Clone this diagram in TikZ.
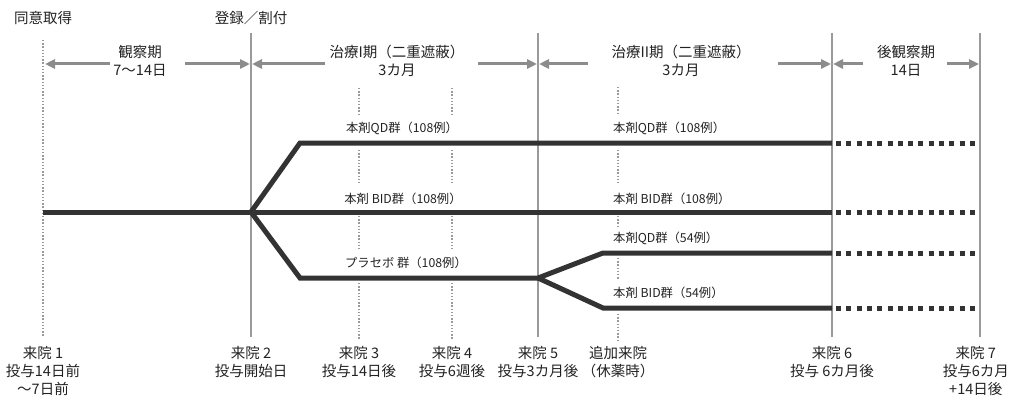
\documentclass[tikz,border=0pt]{standalone}
\usepackage{fontspec}
\setmainfont{Noto Sans CJK JP}
\usetikzlibrary{arrows.meta}
\definecolor{vgray}{HTML}{9A9A9A}
\definecolor{agray}{HTML}{8C8C8C}
\definecolor{armc}{HTML}{333333}
\definecolor{txt}{HTML}{222222}
\begin{document}
\begin{tikzpicture}[x=1pt,y=-1pt,
  vline/.style={draw=vgray, line width=2pt},
  vdot/.style={draw=vgray, line width=1.4pt, dash pattern=on 1.4pt off 1.8pt},
  arm/.style={draw=armc, line width=5pt, line join=miter},
  ext/.style={draw=armc, line width=5pt, dash pattern=on 5pt off 5.3pt, dash phase=-4pt},
  per/.style={draw=agray, line width=3pt, -{Triangle[length=10pt,width=9pt]}},
  lab/.style={font=\fontsize{14.5}{18}\selectfont, align=center, text=txt, inner sep=0pt},
  grp/.style={font=\fontsize{12.3}{14}\selectfont, inner sep=0pt, text=txt}]
\useasboundingbox (0,0) rectangle (1011,401);

% vertical visit lines
\coordinate (v1t) at (43,40);  \coordinate (v1b) at (43,337);
\coordinate (v2t) at (251,33); \coordinate (v2b) at (251,337);
\coordinate (v5t) at (538,33); \coordinate (v5b) at (538,337);
\coordinate (v6t) at (832,33); \coordinate (v6b) at (832,337);
\coordinate (v7t) at (980,33); \coordinate (v7b) at (980,337);
\draw[vdot] (v1t) -- (v1b);
\draw[vline] (v2t) -- (v2b);
\draw[vline] (v5t) -- (v5b);
\draw[vline] (v6t) -- (v6b);
\draw[vline] (v7t) -- (v7b);
% broken dotted lines (visits 3, 4, additional)
\foreach \x in {359,452}{
  \draw[vdot] (\x,88) -- (\x,115);
  \draw[vdot] (\x,150) -- (\x,183);
  \draw[vdot] (\x,216) -- (\x,250);
  \draw[vdot] (\x,283) -- (\x,340);
}
\draw[vdot] (618,87) -- (618,113);
\draw[vdot] (618,150) -- (618,183);
\draw[vdot] (618,216) -- (618,226);
\draw[vdot] (618,258) -- (618,280);
\draw[vdot] (618,314) -- (618,342);

% top labels
\node[lab] (consent) at (43,18) {同意取得};
\node[lab] (reg) at (251,18) {登録／割付};
\node[lab] (p0) at (140,61) {観察期\\7〜14日};
\node[lab] (p1) at (397,61) {治療I期（二重遮蔽）\\3カ月};
\node[lab] (p2) at (681,61) {治療II期（二重遮蔽）\\3カ月};
\node[lab] (p3) at (906,61) {後観察期\\14日};

% period arrows
\coordinate (a0l) at (110,64); \coordinate (a0le) at (45,64);
\coordinate (a0r) at (185,64); \coordinate (a0re) at (250,64);
\coordinate (a1l) at (325,64); \coordinate (a1le) at (252,64);
\coordinate (a1r) at (478,64); \coordinate (a1re) at (537,64);
\coordinate (a2l) at (588,64); \coordinate (a2le) at (539,64);
\coordinate (a2r) at (778,64); \coordinate (a2re) at (831,64);
\coordinate (a3l) at (863,64); \coordinate (a3le) at (833,64);
\coordinate (a3r) at (947,64); \coordinate (a3re) at (979,64);
\draw[per] (a0l) -- (a0le);
\draw[per] (a0r) -- (a0re);
\draw[per] (a1l) -- (a1le);
\draw[per] (a1r) -- (a1re);
\draw[per] (a2l) -- (a2le);
\draw[per] (a2r) -- (a2re);
\draw[per] (a3l) -- (a3le);
\draw[per] (a3r) -- (a3re);

% treatment arms
\coordinate (s0) at (43,212);
\coordinate (br1) at (251,212);
\coordinate (qdA) at (300,143);
\coordinate (plA) at (300,278);
\coordinate (br2) at (538,278);
\coordinate (qdB) at (603,253);
\coordinate (bdB) at (603,308);
\coordinate (qdE) at (832,143);
\coordinate (bdE) at (832,212);
\coordinate (q5E) at (832,253);
\coordinate (b5E) at (832,308);
\coordinate (qdX) at (980,143);
\coordinate (bdX) at (980,212);
\coordinate (q5X) at (980,253);
\coordinate (b5X) at (980,308);
\draw[arm] (s0) -- (bdE);
\draw[arm] (br1) -- (qdA) -- (qdE);
\draw[arm] (br1) -- (plA) -- (br2) -- (qdB) -- (q5E);
\draw[arm] (br2) -- (bdB) -- (b5E);
\draw[ext] (qdE) -- (qdX);
\draw[ext] (bdE) -- (bdX);
\draw[ext] (q5E) -- (q5X);
\draw[ext] (b5E) -- (b5X);

% arm labels
\node[grp] (g1) at (402,128) {本剤QD群（108例）};
\node[grp] (g2) at (403,199) {本剤 BID群（108例）};
\node[grp] (g3) at (406,263) {プラセボ 群（108例）};
\node[grp, anchor=west] (g4) at (613,128) {本剤QD群（108例）};
\node[grp, anchor=west] (g5) at (613,199) {本剤 BID群（108例）};
\node[grp, anchor=west] (g6) at (613,238) {本剤QD群（54例）};
\node[grp, anchor=west] (g7) at (613,293) {本剤 BID群（54例）};

% visit labels
\node[lab, anchor=north] (l1) at (43,346) {来院 1\\投与14日前\\〜7日前};
\node[lab, anchor=north] (l2) at (251,346) {来院 2\\投与開始日};
\node[lab, anchor=north] (l3) at (359,346) {来院 3\\投与14日後};
\node[lab, anchor=north] (l4) at (452,346) {来院 4\\投与6週後};
\node[lab, anchor=north] (l5) at (538,346) {来院 5\\投与3カ月後};
\node[lab, anchor=north] (la) at (618,346) {追加来院\\（休薬時）};
\node[lab, anchor=north] (l6) at (832,346) {来院 6\\投与 6カ月後};
\node[lab, anchor=north east] (l7) at (1009,346) {来院 7\\投与6カ月\\+14日後};
\end{tikzpicture}
\end{document}
